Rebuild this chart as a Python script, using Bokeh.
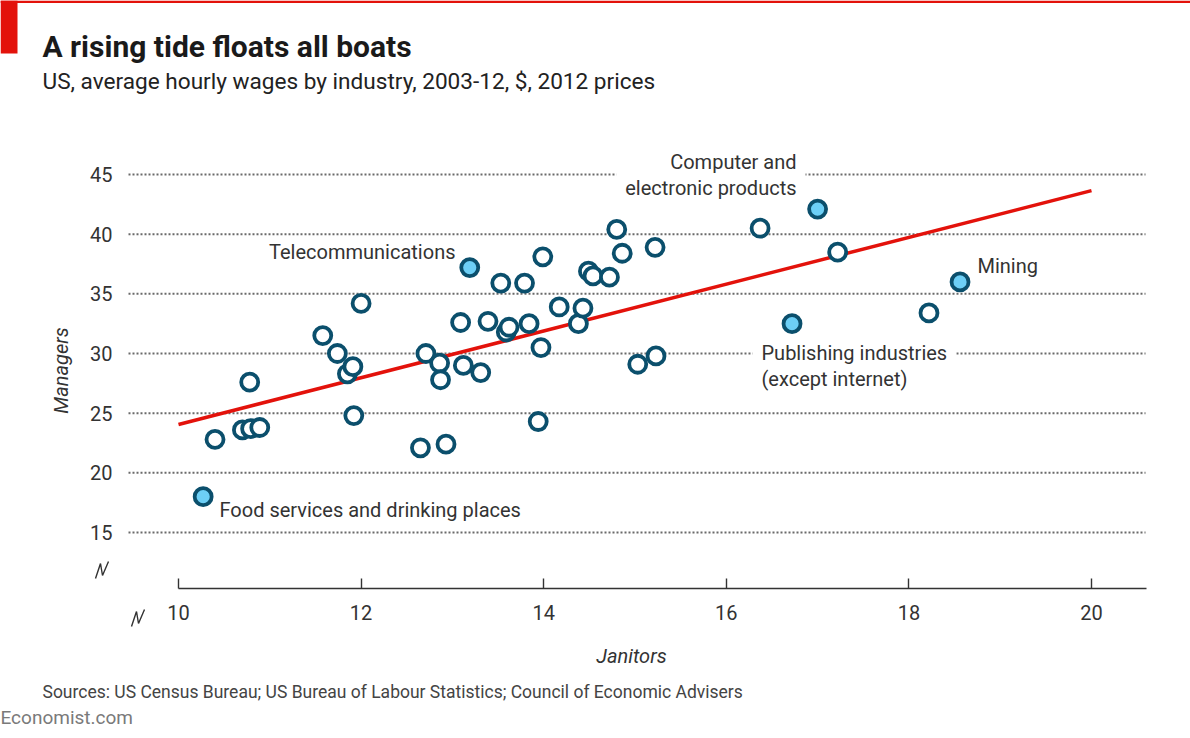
import math
from bokeh.plotting import figure
from bokeh.models import LinearAxis, FixedTicker, Range1d, Label, BoxAnnotation, Grid
from bokeh.core.properties import value
from bokeh.embed import file_html
from bokeh.resources import INLINE

# ---------------- data ----------------
janitors = [10.40, 10.70, 10.79, 10.89, 10.78, 11.58, 11.74, 11.85, 11.91, 11.92,
            12.00, 12.65, 12.93, 12.71, 12.86, 12.87, 13.09, 13.12, 13.31, 13.39,
            13.53, 13.59, 13.62, 13.79, 13.84, 13.97, 13.94, 13.99, 14.17, 14.38,
            14.43, 14.49, 14.54, 14.72, 14.80, 14.86, 15.03, 15.23, 15.22, 16.37,
            17.22, 18.22]
managers = [22.8, 23.6, 23.7, 23.8, 27.6, 31.5, 30.0, 28.3, 28.9, 24.8,
            34.2, 22.1, 22.4, 30.0, 29.2, 27.8, 32.6, 29.0, 28.4, 32.7,
            35.9, 31.8, 32.2, 35.9, 32.5, 30.5, 24.3, 38.1, 33.9, 32.5,
            33.8, 36.9, 36.5, 36.4, 40.4, 38.4, 29.1, 29.8, 38.9, 40.5,
            38.5, 33.4]

highlight_names = ["Food services and drinking places", "Telecommunications",
                   "Computer and\nelectronic products",
                   "Publishing industries\n(except internet)", "Mining"]
highlight_janitors = [10.27, 13.19, 17.00, 16.72, 18.56]
highlight_managers = [18.0, 37.2, 42.1, 32.5, 36.0]

trend_janitors = [10, 20]
trend_managers = [24.05, 43.65]

x_ticks = [10, 12, 14, 16, 18, 20]
y_ticks = [15, 20, 25, 30, 35, 40, 45]

title = "A rising tide floats all boats"
subtitle = "US, average hourly wages by industry, 2003-12, $, 2012 prices"
source = "Sources: US Census Bureau; US Bureau of Labour Statistics; Council of Economic Advisers"

# ---------------- layout helpers ----------------
W, H = 1190, 738
FL, FR, FT, FB = 0, 1190, 0, 738       # frame edges in px (axes are fixed-location)
PX0, PXU = 178.0, 91.3                 # px of janitors=10, px per $1
PY0, PYU = 532.0, 11.933               # px of managers=15, px per $1


def xd(px):
    return 10 + (px - PX0) / PXU


def yd(py):
    return 15 + (PY0 - py) / PYU


FONT = "Roboto"
TXT = "#333333"
DARK = "#0b4f6c"
LIGHT = "#6dcff6"
RED = "#e3120b"

p = figure(width=W, height=H, output_backend="svg", toolbar_location=None,
           x_range=Range1d(xd(FL), xd(FR)), y_range=Range1d(yd(FB), yd(FT)),
           x_axis_location=None, y_axis_location=None,
           min_border_left=FL, min_border_right=W - FR,
           min_border_top=FT, min_border_bottom=H - FB,
           outline_line_color=None, border_fill_color="white",
           background_fill_color="white")
for r in p.select(type=Grid):
    r.visible = False

# axes
xaxis = LinearAxis(fixed_location=yd(588), bounds=(10, xd(1146)),
                   ticker=FixedTicker(ticks=x_ticks))
xaxis.axis_line_color = "#333333"
xaxis.axis_line_width = 1.6
xaxis.major_tick_line_color = "#333333"
xaxis.major_tick_line_width = 1.4
xaxis.major_tick_in = 10
xaxis.major_tick_out = 0
xaxis.minor_tick_line_color = None
xaxis.major_label_standoff = 16
xaxis.major_label_text_font = FONT
xaxis.major_label_text_font_size = "20px"
xaxis.major_label_text_color = TXT
p.add_layout(xaxis, "below")

yaxis = LinearAxis(fixed_location=xd(120), ticker=FixedTicker(ticks=y_ticks))
yaxis.axis_line_color = None
yaxis.major_tick_line_color = None
yaxis.minor_tick_line_color = None
yaxis.major_tick_in = 0
yaxis.major_tick_out = 0
yaxis.major_label_standoff = 8
yaxis.major_label_text_font = FONT
yaxis.major_label_text_font_size = "20px"
yaxis.major_label_text_color = TXT
p.add_layout(yaxis, "left")

# dotted gridlines
p.segment(x0=[xd(128)] * len(y_ticks), x1=[xd(1145)] * len(y_ticks),
          y0=y_ticks, y1=y_ticks, line_color="#6a6a6a", line_width=2,
          line_dash=value([2, 2]))

# axis break marks
for cx, cy in [(101, 570), (137, 618)]:
    offs = [(-6, 8), (-1, -7), (1, 5), (7, -9)]
    p.line([xd(cx + dx) for dx, dy in offs], [yd(cy + dy) for dx, dy in offs],
           line_color="#333333", line_width=1.4)

# annotation texts (with white box to interrupt gridlines where needed)
common = dict(text_font=value(FONT), text_font_size="20px", text_color=TXT,
              text_baseline="middle", text_line_height=1.05)
p.text(x=[xd(805)], y=[yd(174.5)], text=[highlight_names[2]], text_align="right",
       background_fill_color="white", padding=9, **common)
p.text(x=[xd(752)], y=[yd(365.5)], text=[highlight_names[3]], text_align="left",
       background_fill_color="white", padding=9, **common)
p.text(x=[xd(455)], y=[yd(251)], text=[highlight_names[1]], text_align="right", **common)
p.text(x=[xd(977)], y=[yd(265)], text=[highlight_names[4]], text_align="left", **common)
p.text(x=[xd(219)], y=[yd(509)], text=[highlight_names[0]], text_align="left", **common)

# trend line
p.line(trend_janitors, trend_managers, line_color=RED, line_width=3.5)

# points
p.scatter(janitors, managers, size=17, fill_color="white", line_color=DARK,
          line_width=3.8)
p.scatter(highlight_janitors, highlight_managers, size=17, fill_color=LIGHT,
          line_color=DARK, line_width=3.8)

# axis titles
p.add_layout(Label(x=xd(60), y=yd(370), text="Managers", angle=math.pi / 2,
                   text_align="center", text_baseline="middle",
                   text_font=FONT, text_font_style="italic",
                   text_font_size="20px", text_color=TXT))
p.add_layout(Label(x=xd(631), y=yd(655), text="Janitors",
                   text_align="center", text_baseline="middle",
                   text_font=FONT, text_font_style="italic",
                   text_font_size="20px", text_color=TXT))

# header / footer
p.add_layout(BoxAnnotation(left=xd(0), right=xd(W), top=yd(0), bottom=yd(2.5),
                           fill_color=RED, fill_alpha=1, line_color=None))
p.add_layout(BoxAnnotation(left=xd(0), right=xd(17), top=yd(0), bottom=yd(53),
                           fill_color=RED, fill_alpha=1, line_color=None))
p.add_layout(Label(x=xd(42), y=yd(46), text=title, text_align="left",
                   text_baseline="middle", text_font=FONT,
                   text_font_style="bold", text_font_size="30px",
                   text_color="#1a1a1a"))
p.add_layout(Label(x=xd(42), y=yd(81), text=subtitle, text_align="left",
                   text_baseline="middle", text_font=FONT,
                   text_font_size="22.6px", text_color="#222222"))
p.add_layout(Label(x=xd(42), y=yd(691), text=source, text_align="left",
                   text_baseline="middle", text_font=FONT,
                   text_font_size="17.5px", text_color="#444444"))
p.add_layout(Label(x=xd(0), y=yd(717), text="Economist.com", text_align="left",
                   text_baseline="middle", text_font=FONT,
                   text_font_size="19px", text_color="#7a7a7a"))

open("out.html", "w").write(file_html(p, INLINE))
